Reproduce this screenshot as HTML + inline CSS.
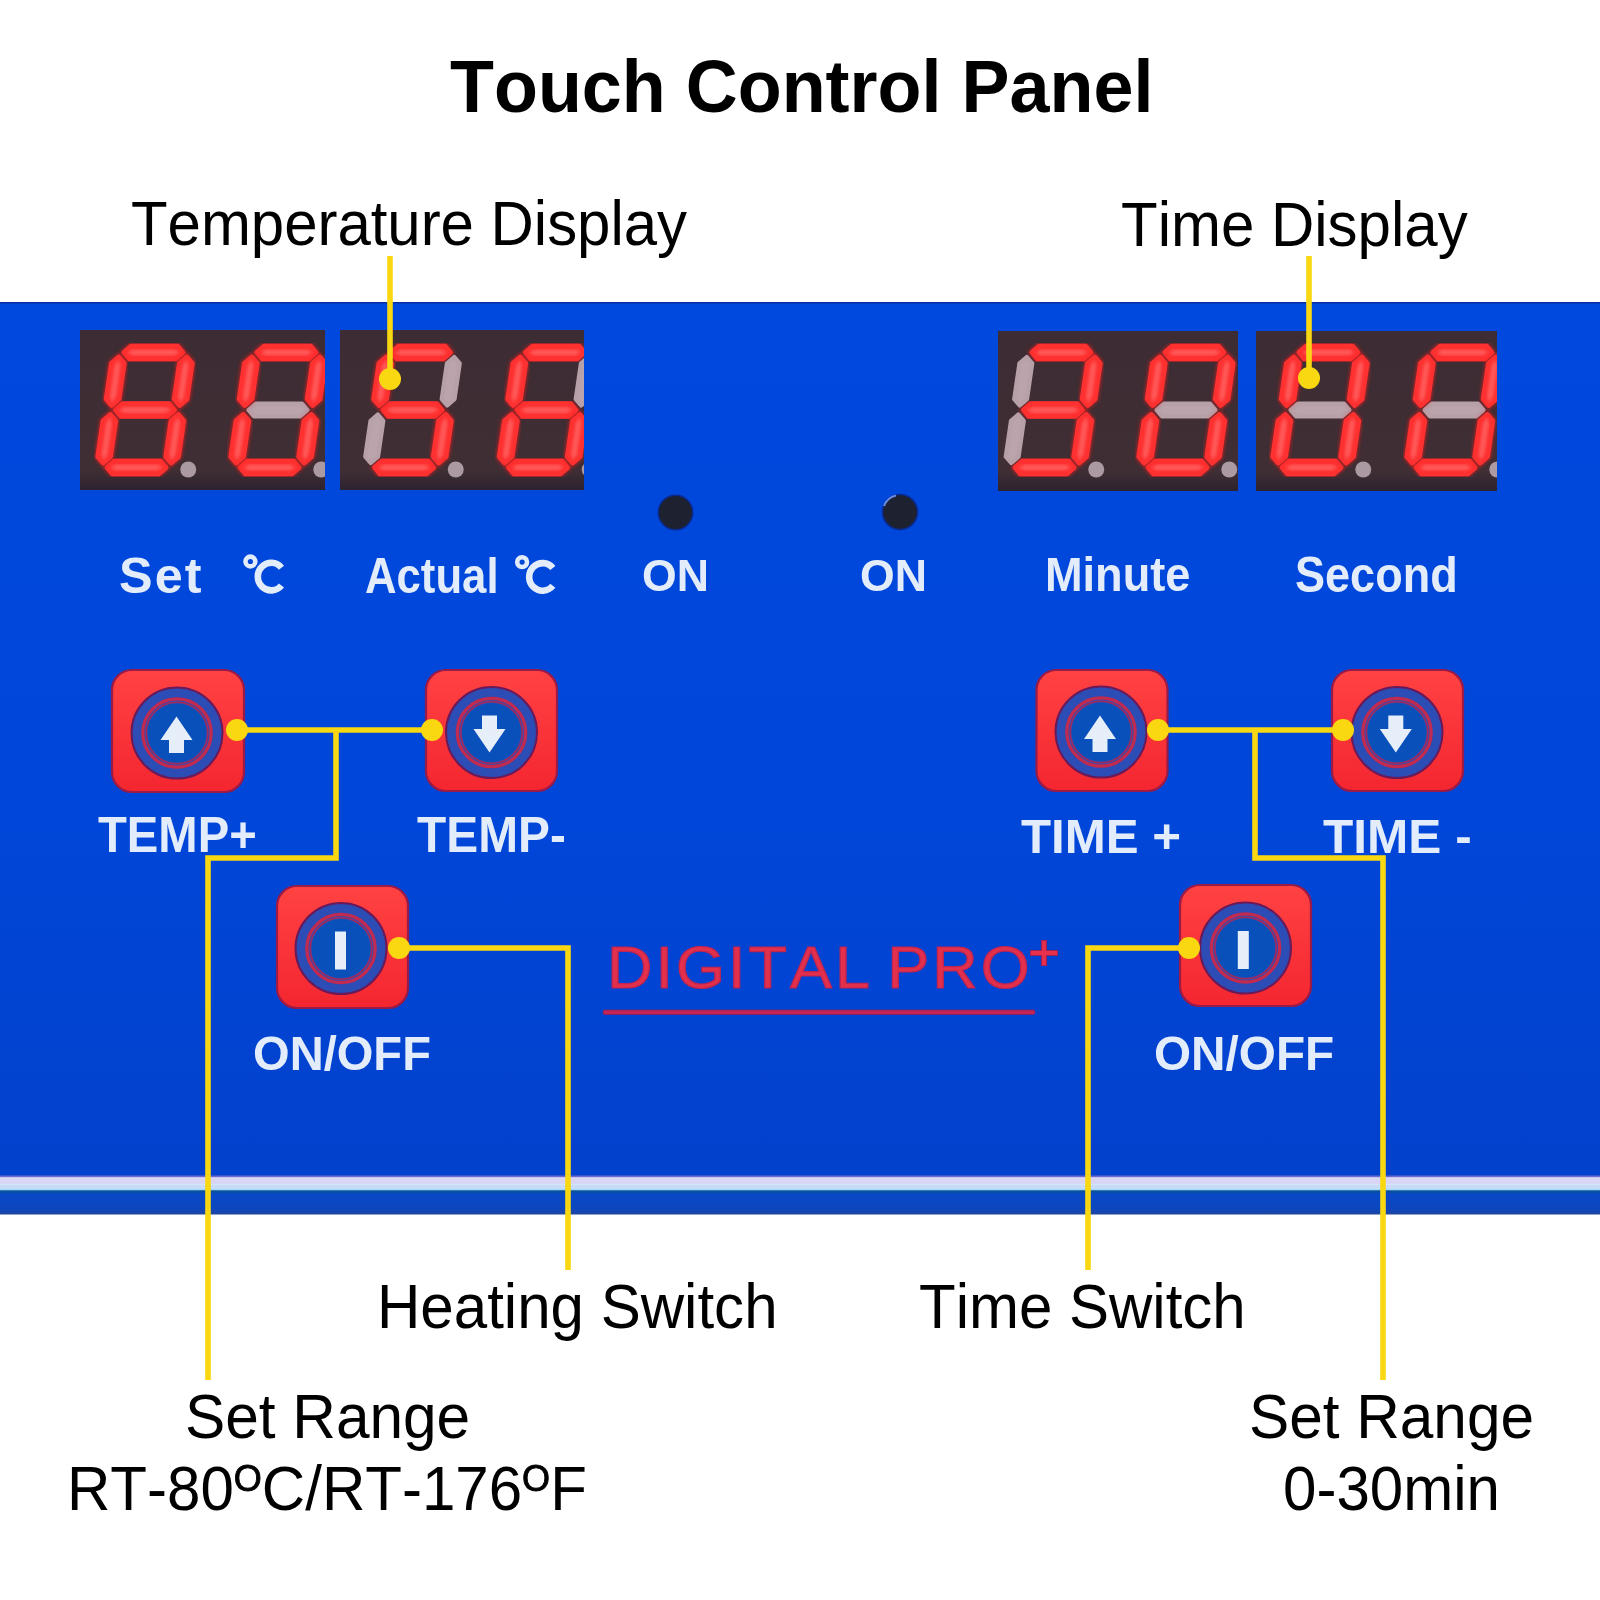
<!DOCTYPE html>
<html><head><meta charset="utf-8"><style>
html,body{margin:0;padding:0;width:1600px;height:1600px;background:#fff;overflow:hidden}
.g{position:absolute;left:0;top:0}
.t{position:absolute;white-space:nowrap;line-height:1;font-kerning:none;font-family:"Liberation Sans",sans-serif;transform-origin:0 0}
</style></head><body>
<svg class="g" width="1600" height="1600" viewBox="0 0 1600 1600">
<defs>
<linearGradient id="panelg" x1="0" y1="0" x2="0" y2="1">
 <stop offset="0" stop-color="#0049de"/><stop offset="0.6" stop-color="#0046d8"/><stop offset="1" stop-color="#0341cc"/>
</linearGradient>
<filter id="blur2" x="-20%" y="-20%" width="140%" height="140%"><feGaussianBlur stdDeviation="1.6"/></filter>
<linearGradient id="dispg" x1="0" y1="0" x2="0" y2="1">
 <stop offset="0" stop-color="#3d2c33"/><stop offset="0.88" stop-color="#3f2e34"/><stop offset="1" stop-color="#2c2230"/>
</linearGradient>
<linearGradient id="btng" x1="0" y1="0" x2="0" y2="1">
 <stop offset="0" stop-color="#ff4242"/><stop offset="1" stop-color="#f42630"/>
</linearGradient>
<linearGradient id="botg" x1="0" y1="0" x2="0" y2="1">
 <stop offset="0" stop-color="#064cb4"/><stop offset="0.2" stop-color="#0848c8"/><stop offset="0.8" stop-color="#0e46bc"/><stop offset="1" stop-color="#20469a"/>
</linearGradient>
</defs>
<style>
.on{fill:#ff3434;stroke:#ff3030;stroke-width:5;stroke-linejoin:round}
.hl{fill:#ff5a5a;stroke:#ff5a5a;stroke-width:1;filter:url(#blur2)}
.glow{fill:none;stroke:#ff1a1a;stroke-width:8;stroke-linejoin:round;opacity:0.45;filter:url(#blur2)}
.off{fill:#bca4ac;stroke:#b8a0a8;stroke-width:4.4;stroke-linejoin:round}
.dp{fill:#ac9aa2}
</style>
<rect x="0" y="302" width="1600" height="874" fill="url(#panelg)"/>
<rect x="0" y="302" width="1600" height="1.5" fill="#0a30a0"/>
<rect x="0" y="1175.5" width="1600" height="2" fill="#6a6ad0"/>
<rect x="0" y="1177.5" width="1600" height="7" fill="#d8d6f4"/>
<rect x="0" y="1184.5" width="1600" height="4.5" fill="#c6dcf6"/>
<rect x="0" y="1189" width="1600" height="1.5" fill="#a0dcf8"/>
<rect x="0" y="1190.5" width="1600" height="24" fill="url(#botg)"/>
<rect x="0" y="1190.5" width="1600" height="2" fill="#0a5098"/>
<clipPath id="dc0"><rect x="80" y="330" width="245" height="160"/></clipPath><rect x="80" y="330" width="245" height="160" fill="url(#dispg)"/><g clip-path="url(#dc0)"><polygon class="glow" points="124.05,352.50 131.28,346.20 177.48,346.20 182.85,352.50 175.63,358.80 129.43,358.80"/>
<polygon class="on" points="124.05,352.50 131.28,346.20 177.48,346.20 182.85,352.50 175.63,358.80 129.43,358.80"/>
<polygon class="hl" points="128.46,352.50 134.14,350.30 173.41,350.30 178.44,352.50 172.76,354.70 133.49,354.70"/>
<polygon class="glow" points="115.60,410.00 122.83,403.70 169.03,403.70 174.40,410.00 167.17,416.30 120.97,416.30"/>
<polygon class="on" points="115.60,410.00 122.83,403.70 169.03,403.70 174.40,410.00 167.17,416.30 120.97,416.30"/>
<polygon class="hl" points="120.01,410.00 125.69,407.80 164.96,407.80 169.99,410.00 164.31,412.20 125.04,412.20"/>
<polygon class="glow" points="107.15,467.50 114.37,461.20 160.57,461.20 165.95,467.50 158.72,473.80 112.52,473.80"/>
<polygon class="on" points="107.15,467.50 114.37,461.20 160.57,461.20 165.95,467.50 158.72,473.80 112.52,473.80"/>
<polygon class="hl" points="111.56,467.50 117.24,465.30 156.51,465.30 161.54,467.50 155.86,469.70 116.59,469.70"/>
<polygon class="glow" points="118.78,357.10 124.15,363.40 118.90,399.10 111.68,405.40 106.30,399.10 111.55,363.40"/>
<polygon class="on" points="118.78,357.10 124.15,363.40 118.90,399.10 111.68,405.40 106.30,399.10 111.55,363.40"/>
<polygon class="hl" points="118.24,360.72 119.66,366.08 115.20,396.42 112.21,401.78 110.79,396.42 115.25,366.08"/>
<polygon class="glow" points="186.78,357.10 192.15,363.40 186.90,399.10 179.68,405.40 174.30,399.10 179.55,363.40"/>
<polygon class="on" points="186.78,357.10 192.15,363.40 186.90,399.10 179.68,405.40 174.30,399.10 179.55,363.40"/>
<polygon class="hl" points="186.24,360.72 187.66,366.08 183.20,396.42 180.21,401.78 178.79,396.42 183.25,366.08"/>
<polygon class="glow" points="110.32,414.60 115.70,420.90 110.45,456.60 103.22,462.90 97.85,456.60 103.10,420.90"/>
<polygon class="on" points="110.32,414.60 115.70,420.90 110.45,456.60 103.22,462.90 97.85,456.60 103.10,420.90"/>
<polygon class="hl" points="109.79,418.22 111.21,423.58 106.75,453.92 103.76,459.28 102.34,453.92 106.80,423.58"/>
<polygon class="glow" points="178.32,414.60 183.70,420.90 178.45,456.60 171.22,462.90 165.85,456.60 171.10,420.90"/>
<polygon class="on" points="178.32,414.60 183.70,420.90 178.45,456.60 171.22,462.90 165.85,456.60 171.10,420.90"/>
<polygon class="hl" points="177.79,418.22 179.21,423.58 174.75,453.92 171.76,459.28 170.34,453.92 174.80,423.58"/>
<circle class="dp" cx="188.25" cy="469.50" r="8"/><polygon class="glow" points="257.05,352.50 264.28,346.20 310.48,346.20 315.85,352.50 308.63,358.80 262.43,358.80"/>
<polygon class="on" points="257.05,352.50 264.28,346.20 310.48,346.20 315.85,352.50 308.63,358.80 262.43,358.80"/>
<polygon class="hl" points="261.46,352.50 267.14,350.30 306.41,350.30 311.44,352.50 305.76,354.70 266.49,354.70"/>
<polygon class="off" points="248.60,410.00 255.83,403.70 302.03,403.70 307.40,410.00 300.17,416.30 253.97,416.30"/>
<polygon class="glow" points="240.15,467.50 247.37,461.20 293.57,461.20 298.95,467.50 291.72,473.80 245.52,473.80"/>
<polygon class="on" points="240.15,467.50 247.37,461.20 293.57,461.20 298.95,467.50 291.72,473.80 245.52,473.80"/>
<polygon class="hl" points="244.56,467.50 250.24,465.30 289.51,465.30 294.54,467.50 288.86,469.70 249.59,469.70"/>
<polygon class="glow" points="251.78,357.10 257.15,363.40 251.90,399.10 244.68,405.40 239.30,399.10 244.55,363.40"/>
<polygon class="on" points="251.78,357.10 257.15,363.40 251.90,399.10 244.68,405.40 239.30,399.10 244.55,363.40"/>
<polygon class="hl" points="251.24,360.72 252.66,366.08 248.20,396.42 245.21,401.78 243.79,396.42 248.25,366.08"/>
<polygon class="glow" points="319.78,357.10 325.15,363.40 319.90,399.10 312.68,405.40 307.30,399.10 312.55,363.40"/>
<polygon class="on" points="319.78,357.10 325.15,363.40 319.90,399.10 312.68,405.40 307.30,399.10 312.55,363.40"/>
<polygon class="hl" points="319.24,360.72 320.66,366.08 316.20,396.42 313.21,401.78 311.79,396.42 316.25,366.08"/>
<polygon class="glow" points="243.32,414.60 248.70,420.90 243.45,456.60 236.22,462.90 230.85,456.60 236.10,420.90"/>
<polygon class="on" points="243.32,414.60 248.70,420.90 243.45,456.60 236.22,462.90 230.85,456.60 236.10,420.90"/>
<polygon class="hl" points="242.79,418.22 244.21,423.58 239.75,453.92 236.76,459.28 235.34,453.92 239.80,423.58"/>
<polygon class="glow" points="311.32,414.60 316.70,420.90 311.45,456.60 304.22,462.90 298.85,456.60 304.10,420.90"/>
<polygon class="on" points="311.32,414.60 316.70,420.90 311.45,456.60 304.22,462.90 298.85,456.60 304.10,420.90"/>
<polygon class="hl" points="310.79,418.22 312.21,423.58 307.75,453.92 304.76,459.28 303.34,453.92 307.80,423.58"/>
<circle class="dp" cx="321.25" cy="469.50" r="8"/></g><clipPath id="dc1"><rect x="340" y="330" width="244" height="160"/></clipPath><rect x="340" y="330" width="244" height="160" fill="url(#dispg)"/><g clip-path="url(#dc1)"><polygon class="glow" points="391.55,352.50 398.78,346.20 444.98,346.20 450.35,352.50 443.13,358.80 396.93,358.80"/>
<polygon class="on" points="391.55,352.50 398.78,346.20 444.98,346.20 450.35,352.50 443.13,358.80 396.93,358.80"/>
<polygon class="hl" points="395.96,352.50 401.64,350.30 440.91,350.30 445.94,352.50 440.26,354.70 400.99,354.70"/>
<polygon class="glow" points="383.10,410.00 390.33,403.70 436.53,403.70 441.90,410.00 434.67,416.30 388.47,416.30"/>
<polygon class="on" points="383.10,410.00 390.33,403.70 436.53,403.70 441.90,410.00 434.67,416.30 388.47,416.30"/>
<polygon class="hl" points="387.51,410.00 393.19,407.80 432.46,407.80 437.49,410.00 431.81,412.20 392.54,412.20"/>
<polygon class="glow" points="374.65,467.50 381.87,461.20 428.07,461.20 433.45,467.50 426.22,473.80 380.02,473.80"/>
<polygon class="on" points="374.65,467.50 381.87,461.20 428.07,461.20 433.45,467.50 426.22,473.80 380.02,473.80"/>
<polygon class="hl" points="379.06,467.50 384.74,465.30 424.01,465.30 429.04,467.50 423.36,469.70 384.09,469.70"/>
<polygon class="glow" points="386.28,357.10 391.65,363.40 386.40,399.10 379.18,405.40 373.80,399.10 379.05,363.40"/>
<polygon class="on" points="386.28,357.10 391.65,363.40 386.40,399.10 379.18,405.40 373.80,399.10 379.05,363.40"/>
<polygon class="hl" points="385.74,360.72 387.16,366.08 382.70,396.42 379.71,401.78 378.29,396.42 382.75,366.08"/>
<polygon class="off" points="454.28,357.10 459.65,363.40 454.40,399.10 447.18,405.40 441.80,399.10 447.05,363.40"/>
<polygon class="off" points="377.82,414.60 383.20,420.90 377.95,456.60 370.72,462.90 365.35,456.60 370.60,420.90"/>
<polygon class="glow" points="445.82,414.60 451.20,420.90 445.95,456.60 438.72,462.90 433.35,456.60 438.60,420.90"/>
<polygon class="on" points="445.82,414.60 451.20,420.90 445.95,456.60 438.72,462.90 433.35,456.60 438.60,420.90"/>
<polygon class="hl" points="445.29,418.22 446.71,423.58 442.25,453.92 439.26,459.28 437.84,453.92 442.30,423.58"/>
<circle class="dp" cx="455.75" cy="469.50" r="8"/><polygon class="glow" points="525.55,352.50 532.78,346.20 578.98,346.20 584.35,352.50 577.13,358.80 530.93,358.80"/>
<polygon class="on" points="525.55,352.50 532.78,346.20 578.98,346.20 584.35,352.50 577.13,358.80 530.93,358.80"/>
<polygon class="hl" points="529.96,352.50 535.64,350.30 574.91,350.30 579.94,352.50 574.26,354.70 534.99,354.70"/>
<polygon class="glow" points="517.10,410.00 524.33,403.70 570.53,403.70 575.90,410.00 568.67,416.30 522.47,416.30"/>
<polygon class="on" points="517.10,410.00 524.33,403.70 570.53,403.70 575.90,410.00 568.67,416.30 522.47,416.30"/>
<polygon class="hl" points="521.51,410.00 527.19,407.80 566.46,407.80 571.49,410.00 565.81,412.20 526.54,412.20"/>
<polygon class="glow" points="508.65,467.50 515.87,461.20 562.07,461.20 567.45,467.50 560.22,473.80 514.02,473.80"/>
<polygon class="on" points="508.65,467.50 515.87,461.20 562.07,461.20 567.45,467.50 560.22,473.80 514.02,473.80"/>
<polygon class="hl" points="513.06,467.50 518.74,465.30 558.01,465.30 563.04,467.50 557.36,469.70 518.09,469.70"/>
<polygon class="glow" points="520.28,357.10 525.65,363.40 520.40,399.10 513.18,405.40 507.80,399.10 513.05,363.40"/>
<polygon class="on" points="520.28,357.10 525.65,363.40 520.40,399.10 513.18,405.40 507.80,399.10 513.05,363.40"/>
<polygon class="hl" points="519.74,360.72 521.16,366.08 516.70,396.42 513.71,401.78 512.29,396.42 516.75,366.08"/>
<polygon class="off" points="588.28,357.10 593.65,363.40 588.40,399.10 581.18,405.40 575.80,399.10 581.05,363.40"/>
<polygon class="glow" points="511.82,414.60 517.20,420.90 511.95,456.60 504.72,462.90 499.35,456.60 504.60,420.90"/>
<polygon class="on" points="511.82,414.60 517.20,420.90 511.95,456.60 504.72,462.90 499.35,456.60 504.60,420.90"/>
<polygon class="hl" points="511.29,418.22 512.71,423.58 508.25,453.92 505.26,459.28 503.84,453.92 508.30,423.58"/>
<polygon class="glow" points="579.82,414.60 585.20,420.90 579.95,456.60 572.72,462.90 567.35,456.60 572.60,420.90"/>
<polygon class="on" points="579.82,414.60 585.20,420.90 579.95,456.60 572.72,462.90 567.35,456.60 572.60,420.90"/>
<polygon class="hl" points="579.29,418.22 580.71,423.58 576.25,453.92 573.26,459.28 571.84,453.92 576.30,423.58"/>
<circle class="dp" cx="589.75" cy="469.50" r="8"/></g><clipPath id="dc2"><rect x="998" y="331" width="240" height="160"/></clipPath><rect x="998" y="331" width="240" height="160" fill="url(#dispg)"/><g clip-path="url(#dc2)"><polygon class="glow" points="1032.05,352.50 1039.28,346.20 1085.48,346.20 1090.85,352.50 1083.63,358.80 1037.43,358.80"/>
<polygon class="on" points="1032.05,352.50 1039.28,346.20 1085.48,346.20 1090.85,352.50 1083.63,358.80 1037.43,358.80"/>
<polygon class="hl" points="1036.46,352.50 1042.14,350.30 1081.41,350.30 1086.44,352.50 1080.76,354.70 1041.49,354.70"/>
<polygon class="glow" points="1023.60,410.00 1030.83,403.70 1077.03,403.70 1082.40,410.00 1075.17,416.30 1028.97,416.30"/>
<polygon class="on" points="1023.60,410.00 1030.83,403.70 1077.03,403.70 1082.40,410.00 1075.17,416.30 1028.97,416.30"/>
<polygon class="hl" points="1028.01,410.00 1033.69,407.80 1072.96,407.80 1077.99,410.00 1072.31,412.20 1033.04,412.20"/>
<polygon class="glow" points="1015.15,467.50 1022.37,461.20 1068.57,461.20 1073.95,467.50 1066.72,473.80 1020.52,473.80"/>
<polygon class="on" points="1015.15,467.50 1022.37,461.20 1068.57,461.20 1073.95,467.50 1066.72,473.80 1020.52,473.80"/>
<polygon class="hl" points="1019.56,467.50 1025.24,465.30 1064.51,465.30 1069.54,467.50 1063.86,469.70 1024.59,469.70"/>
<polygon class="off" points="1026.78,357.10 1032.15,363.40 1026.90,399.10 1019.68,405.40 1014.30,399.10 1019.55,363.40"/>
<polygon class="glow" points="1094.78,357.10 1100.15,363.40 1094.90,399.10 1087.68,405.40 1082.30,399.10 1087.55,363.40"/>
<polygon class="on" points="1094.78,357.10 1100.15,363.40 1094.90,399.10 1087.68,405.40 1082.30,399.10 1087.55,363.40"/>
<polygon class="hl" points="1094.24,360.72 1095.66,366.08 1091.20,396.42 1088.21,401.78 1086.79,396.42 1091.25,366.08"/>
<polygon class="off" points="1018.32,414.60 1023.70,420.90 1018.45,456.60 1011.22,462.90 1005.85,456.60 1011.10,420.90"/>
<polygon class="glow" points="1086.32,414.60 1091.70,420.90 1086.45,456.60 1079.22,462.90 1073.85,456.60 1079.10,420.90"/>
<polygon class="on" points="1086.32,414.60 1091.70,420.90 1086.45,456.60 1079.22,462.90 1073.85,456.60 1079.10,420.90"/>
<polygon class="hl" points="1085.79,418.22 1087.21,423.58 1082.75,453.92 1079.76,459.28 1078.34,453.92 1082.80,423.58"/>
<circle class="dp" cx="1096.25" cy="469.50" r="8"/><polygon class="glow" points="1165.05,352.50 1172.28,346.20 1218.48,346.20 1223.85,352.50 1216.63,358.80 1170.43,358.80"/>
<polygon class="on" points="1165.05,352.50 1172.28,346.20 1218.48,346.20 1223.85,352.50 1216.63,358.80 1170.43,358.80"/>
<polygon class="hl" points="1169.46,352.50 1175.14,350.30 1214.41,350.30 1219.44,352.50 1213.76,354.70 1174.49,354.70"/>
<polygon class="off" points="1156.60,410.00 1163.83,403.70 1210.03,403.70 1215.40,410.00 1208.17,416.30 1161.97,416.30"/>
<polygon class="glow" points="1148.15,467.50 1155.37,461.20 1201.57,461.20 1206.95,467.50 1199.72,473.80 1153.52,473.80"/>
<polygon class="on" points="1148.15,467.50 1155.37,461.20 1201.57,461.20 1206.95,467.50 1199.72,473.80 1153.52,473.80"/>
<polygon class="hl" points="1152.56,467.50 1158.24,465.30 1197.51,465.30 1202.54,467.50 1196.86,469.70 1157.59,469.70"/>
<polygon class="glow" points="1159.78,357.10 1165.15,363.40 1159.90,399.10 1152.68,405.40 1147.30,399.10 1152.55,363.40"/>
<polygon class="on" points="1159.78,357.10 1165.15,363.40 1159.90,399.10 1152.68,405.40 1147.30,399.10 1152.55,363.40"/>
<polygon class="hl" points="1159.24,360.72 1160.66,366.08 1156.20,396.42 1153.21,401.78 1151.79,396.42 1156.25,366.08"/>
<polygon class="glow" points="1227.78,357.10 1233.15,363.40 1227.90,399.10 1220.68,405.40 1215.30,399.10 1220.55,363.40"/>
<polygon class="on" points="1227.78,357.10 1233.15,363.40 1227.90,399.10 1220.68,405.40 1215.30,399.10 1220.55,363.40"/>
<polygon class="hl" points="1227.24,360.72 1228.66,366.08 1224.20,396.42 1221.21,401.78 1219.79,396.42 1224.25,366.08"/>
<polygon class="glow" points="1151.32,414.60 1156.70,420.90 1151.45,456.60 1144.22,462.90 1138.85,456.60 1144.10,420.90"/>
<polygon class="on" points="1151.32,414.60 1156.70,420.90 1151.45,456.60 1144.22,462.90 1138.85,456.60 1144.10,420.90"/>
<polygon class="hl" points="1150.79,418.22 1152.21,423.58 1147.75,453.92 1144.76,459.28 1143.34,453.92 1147.80,423.58"/>
<polygon class="glow" points="1219.32,414.60 1224.70,420.90 1219.45,456.60 1212.22,462.90 1206.85,456.60 1212.10,420.90"/>
<polygon class="on" points="1219.32,414.60 1224.70,420.90 1219.45,456.60 1212.22,462.90 1206.85,456.60 1212.10,420.90"/>
<polygon class="hl" points="1218.79,418.22 1220.21,423.58 1215.75,453.92 1212.76,459.28 1211.34,453.92 1215.80,423.58"/>
<circle class="dp" cx="1229.25" cy="469.50" r="8"/></g><clipPath id="dc3"><rect x="1256" y="331" width="241" height="160"/></clipPath><rect x="1256" y="331" width="241" height="160" fill="url(#dispg)"/><g clip-path="url(#dc3)"><polygon class="glow" points="1299.05,352.50 1306.28,346.20 1352.48,346.20 1357.85,352.50 1350.63,358.80 1304.43,358.80"/>
<polygon class="on" points="1299.05,352.50 1306.28,346.20 1352.48,346.20 1357.85,352.50 1350.63,358.80 1304.43,358.80"/>
<polygon class="hl" points="1303.46,352.50 1309.14,350.30 1348.41,350.30 1353.44,352.50 1347.76,354.70 1308.49,354.70"/>
<polygon class="off" points="1290.60,410.00 1297.83,403.70 1344.03,403.70 1349.40,410.00 1342.17,416.30 1295.97,416.30"/>
<polygon class="glow" points="1282.15,467.50 1289.37,461.20 1335.57,461.20 1340.95,467.50 1333.72,473.80 1287.52,473.80"/>
<polygon class="on" points="1282.15,467.50 1289.37,461.20 1335.57,461.20 1340.95,467.50 1333.72,473.80 1287.52,473.80"/>
<polygon class="hl" points="1286.56,467.50 1292.24,465.30 1331.51,465.30 1336.54,467.50 1330.86,469.70 1291.59,469.70"/>
<polygon class="glow" points="1293.78,357.10 1299.15,363.40 1293.90,399.10 1286.68,405.40 1281.30,399.10 1286.55,363.40"/>
<polygon class="on" points="1293.78,357.10 1299.15,363.40 1293.90,399.10 1286.68,405.40 1281.30,399.10 1286.55,363.40"/>
<polygon class="hl" points="1293.24,360.72 1294.66,366.08 1290.20,396.42 1287.21,401.78 1285.79,396.42 1290.25,366.08"/>
<polygon class="glow" points="1361.78,357.10 1367.15,363.40 1361.90,399.10 1354.68,405.40 1349.30,399.10 1354.55,363.40"/>
<polygon class="on" points="1361.78,357.10 1367.15,363.40 1361.90,399.10 1354.68,405.40 1349.30,399.10 1354.55,363.40"/>
<polygon class="hl" points="1361.24,360.72 1362.66,366.08 1358.20,396.42 1355.21,401.78 1353.79,396.42 1358.25,366.08"/>
<polygon class="glow" points="1285.32,414.60 1290.70,420.90 1285.45,456.60 1278.22,462.90 1272.85,456.60 1278.10,420.90"/>
<polygon class="on" points="1285.32,414.60 1290.70,420.90 1285.45,456.60 1278.22,462.90 1272.85,456.60 1278.10,420.90"/>
<polygon class="hl" points="1284.79,418.22 1286.21,423.58 1281.75,453.92 1278.76,459.28 1277.34,453.92 1281.80,423.58"/>
<polygon class="glow" points="1353.32,414.60 1358.70,420.90 1353.45,456.60 1346.22,462.90 1340.85,456.60 1346.10,420.90"/>
<polygon class="on" points="1353.32,414.60 1358.70,420.90 1353.45,456.60 1346.22,462.90 1340.85,456.60 1346.10,420.90"/>
<polygon class="hl" points="1352.79,418.22 1354.21,423.58 1349.75,453.92 1346.76,459.28 1345.34,453.92 1349.80,423.58"/>
<circle class="dp" cx="1363.25" cy="469.50" r="8"/><polygon class="glow" points="1433.05,352.50 1440.28,346.20 1486.48,346.20 1491.85,352.50 1484.63,358.80 1438.43,358.80"/>
<polygon class="on" points="1433.05,352.50 1440.28,346.20 1486.48,346.20 1491.85,352.50 1484.63,358.80 1438.43,358.80"/>
<polygon class="hl" points="1437.46,352.50 1443.14,350.30 1482.41,350.30 1487.44,352.50 1481.76,354.70 1442.49,354.70"/>
<polygon class="off" points="1424.60,410.00 1431.83,403.70 1478.03,403.70 1483.40,410.00 1476.17,416.30 1429.97,416.30"/>
<polygon class="glow" points="1416.15,467.50 1423.37,461.20 1469.57,461.20 1474.95,467.50 1467.72,473.80 1421.52,473.80"/>
<polygon class="on" points="1416.15,467.50 1423.37,461.20 1469.57,461.20 1474.95,467.50 1467.72,473.80 1421.52,473.80"/>
<polygon class="hl" points="1420.56,467.50 1426.24,465.30 1465.51,465.30 1470.54,467.50 1464.86,469.70 1425.59,469.70"/>
<polygon class="glow" points="1427.78,357.10 1433.15,363.40 1427.90,399.10 1420.68,405.40 1415.30,399.10 1420.55,363.40"/>
<polygon class="on" points="1427.78,357.10 1433.15,363.40 1427.90,399.10 1420.68,405.40 1415.30,399.10 1420.55,363.40"/>
<polygon class="hl" points="1427.24,360.72 1428.66,366.08 1424.20,396.42 1421.21,401.78 1419.79,396.42 1424.25,366.08"/>
<polygon class="glow" points="1495.78,357.10 1501.15,363.40 1495.90,399.10 1488.68,405.40 1483.30,399.10 1488.55,363.40"/>
<polygon class="on" points="1495.78,357.10 1501.15,363.40 1495.90,399.10 1488.68,405.40 1483.30,399.10 1488.55,363.40"/>
<polygon class="hl" points="1495.24,360.72 1496.66,366.08 1492.20,396.42 1489.21,401.78 1487.79,396.42 1492.25,366.08"/>
<polygon class="glow" points="1419.32,414.60 1424.70,420.90 1419.45,456.60 1412.22,462.90 1406.85,456.60 1412.10,420.90"/>
<polygon class="on" points="1419.32,414.60 1424.70,420.90 1419.45,456.60 1412.22,462.90 1406.85,456.60 1412.10,420.90"/>
<polygon class="hl" points="1418.79,418.22 1420.21,423.58 1415.75,453.92 1412.76,459.28 1411.34,453.92 1415.80,423.58"/>
<polygon class="glow" points="1487.32,414.60 1492.70,420.90 1487.45,456.60 1480.22,462.90 1474.85,456.60 1480.10,420.90"/>
<polygon class="on" points="1487.32,414.60 1492.70,420.90 1487.45,456.60 1480.22,462.90 1474.85,456.60 1480.10,420.90"/>
<polygon class="hl" points="1486.79,418.22 1488.21,423.58 1483.75,453.92 1480.76,459.28 1479.34,453.92 1483.80,423.58"/>
<circle class="dp" cx="1497.25" cy="469.50" r="8"/></g>
<circle cx="675.5" cy="512.5" r="17.2" fill="#1e2130" stroke="#0a2a90" stroke-width="1.5"/>
<circle cx="900" cy="512" r="17.5" fill="#1e2130" stroke="#0a2a90" stroke-width="1.5"/><path d="M884,506 A17,17 0 0 1 896,495.5" fill="none" stroke="#6a8ae0" stroke-width="2"/>
<g id="btns">
<rect x="112" y="670" width="132" height="122" rx="20" fill="url(#btng)" stroke="#9a1a48" stroke-width="2.2"/>
<circle cx="177" cy="733" r="45.5" fill="#2c4cb6" stroke="#6a1a58" stroke-width="2"/>
<circle cx="177" cy="733" r="32.8" fill="#0a50ba" stroke="#3a4aa8" stroke-width="6.5"/>
<circle cx="177" cy="733" r="34.2" fill="none" stroke="#c22a50" stroke-width="3.2"/>
<circle cx="177" cy="733" r="30.8" fill="none" stroke="#a02a60" stroke-width="1.6"/>
<polygon fill="#e6eefa" points="176.5,716.5 192.5,740 184.0,740 184.0,753 169.0,753 169.0,740 160.5,740"/><rect x="426" y="670" width="131" height="121" rx="20" fill="url(#btng)" stroke="#9a1a48" stroke-width="2.2"/>
<circle cx="491.5" cy="732.5" r="45.5" fill="#2c4cb6" stroke="#6a1a58" stroke-width="2"/>
<circle cx="491.5" cy="732.5" r="32.8" fill="#0a50ba" stroke="#3a4aa8" stroke-width="6.5"/>
<circle cx="491.5" cy="732.5" r="34.2" fill="none" stroke="#c22a50" stroke-width="3.2"/>
<circle cx="491.5" cy="732.5" r="30.8" fill="none" stroke="#a02a60" stroke-width="1.6"/>
<polygon fill="#e6eefa" points="489.5,752.5 505.5,729.0 497.0,729.0 497.0,715.5 482.0,715.5 482.0,729.0 473.5,729.0"/><rect x="1036.5" y="670" width="131" height="121" rx="20" fill="url(#btng)" stroke="#9a1a48" stroke-width="2.2"/>
<circle cx="1101" cy="732" r="45.5" fill="#2c4cb6" stroke="#6a1a58" stroke-width="2"/>
<circle cx="1101" cy="732" r="32.8" fill="#0a50ba" stroke="#3a4aa8" stroke-width="6.5"/>
<circle cx="1101" cy="732" r="34.2" fill="none" stroke="#c22a50" stroke-width="3.2"/>
<circle cx="1101" cy="732" r="30.8" fill="none" stroke="#a02a60" stroke-width="1.6"/>
<polygon fill="#e6eefa" points="1100,715.5 1116,739 1107.5,739 1107.5,752 1092.5,752 1092.5,739 1084,739"/><rect x="1332" y="670" width="131" height="121" rx="20" fill="url(#btng)" stroke="#9a1a48" stroke-width="2.2"/>
<circle cx="1397" cy="732.5" r="45.5" fill="#2c4cb6" stroke="#6a1a58" stroke-width="2"/>
<circle cx="1397" cy="732.5" r="32.8" fill="#0a50ba" stroke="#3a4aa8" stroke-width="6.5"/>
<circle cx="1397" cy="732.5" r="34.2" fill="none" stroke="#c22a50" stroke-width="3.2"/>
<circle cx="1397" cy="732.5" r="30.8" fill="none" stroke="#a02a60" stroke-width="1.6"/>
<polygon fill="#e6eefa" points="1395.8,752.5 1411.8,729.0 1403.3,729.0 1403.3,715.5 1388.3,715.5 1388.3,729.0 1379.8,729.0"/><rect x="277" y="886" width="131" height="122" rx="20" fill="url(#btng)" stroke="#9a1a48" stroke-width="2.2"/>
<circle cx="341" cy="948.5" r="45.5" fill="#2c4cb6" stroke="#6a1a58" stroke-width="2"/>
<circle cx="341" cy="948.5" r="32.8" fill="#0a50ba" stroke="#3a4aa8" stroke-width="6.5"/>
<circle cx="341" cy="948.5" r="34.2" fill="none" stroke="#c22a50" stroke-width="3.2"/>
<circle cx="341" cy="948.5" r="30.8" fill="none" stroke="#a02a60" stroke-width="1.6"/>
<rect x="335.0" y="931.5" width="11" height="38" fill="#e6eefa"/><rect x="1180" y="885" width="131" height="121" rx="20" fill="url(#btng)" stroke="#9a1a48" stroke-width="2.2"/>
<circle cx="1245.5" cy="948" r="45.5" fill="#2c4cb6" stroke="#6a1a58" stroke-width="2"/>
<circle cx="1245.5" cy="948" r="32.8" fill="#0a50ba" stroke="#3a4aa8" stroke-width="6.5"/>
<circle cx="1245.5" cy="948" r="34.2" fill="none" stroke="#c22a50" stroke-width="3.2"/>
<circle cx="1245.5" cy="948" r="30.8" fill="none" stroke="#a02a60" stroke-width="1.6"/>
<rect x="1237.8" y="931" width="11" height="38" fill="#e6eefa"/>
</g>
<rect x="603" y="1010" width="432" height="4.5" rx="2" fill="#c42456" stroke="#8a2060" stroke-width="0.8"/>
</svg>
<div class="t" style="left:449.55px;top:50.19px;font-size:75.6px;font-weight:700;color:#000;letter-spacing:0px;transform:scale(0.9516,0.9811);">Touch Control Panel</div><div class="t" style="left:131.04px;top:192.00px;font-size:62.5px;font-weight:400;color:#000;letter-spacing:0px;transform:scale(0.9585,1.0000);">Temperature Display</div><div class="t" style="left:1121.04px;top:193.00px;font-size:62.5px;font-weight:400;color:#000;letter-spacing:0px;transform:scale(0.9597,1.0000);">Time Display</div><div class="t" style="left:377.20px;top:1275.00px;font-size:62.5px;font-weight:400;color:#000;letter-spacing:0px;transform:scale(0.9608,1.0000);">Heating Switch</div><div class="t" style="left:919.04px;top:1275.00px;font-size:62.5px;font-weight:400;color:#000;letter-spacing:0px;transform:scale(0.9600,1.0000);">Time Switch</div><div class="t" style="left:184.62px;top:1384.93px;font-size:62.9px;font-weight:400;color:#000;letter-spacing:0px;transform:scale(0.9595,1.0070);">Set Range</div><div class="t" style="left:67.20px;top:1457.00px;font-size:62.5px;font-weight:400;color:#000;letter-spacing:0px;transform:scale(0.9607,1.0000);">RT-80<span style="font-size:0.6em;vertical-align:0.52em;-webkit-text-stroke:0.9px #000">O</span>C/RT-176<span style="font-size:0.6em;vertical-align:0.52em;-webkit-text-stroke:0.9px #000">O</span>F</div><div class="t" style="left:1248.82px;top:1384.93px;font-size:62.9px;font-weight:400;color:#000;letter-spacing:0px;transform:scale(0.9588,1.0070);">Set Range</div><div class="t" style="left:1282.78px;top:1457.00px;font-size:62.5px;font-weight:400;color:#000;letter-spacing:0px;transform:scale(0.9605,1.0000);">0-30min</div><div class="t" style="left:118.93px;top:550.88px;font-size:48.7px;font-weight:700;color:#e2ecfb;letter-spacing:2px;transform:scale(1.0338,1.0152);">Set</div><div class="t" style="left:365.11px;top:551.13px;font-size:49.0px;font-weight:700;color:#e2ecfb;letter-spacing:0px;transform:scale(0.8917,1.0212);">Actual</div><div class="t" style="left:642.05px;top:553.59px;font-size:45.8px;font-weight:700;color:#e2ecfb;letter-spacing:0px;transform:scale(0.9750,0.9844);">ON</div><div class="t" style="left:860.05px;top:553.59px;font-size:45.8px;font-weight:700;color:#e2ecfb;letter-spacing:0px;transform:scale(0.9750,0.9844);">ON</div><div class="t" style="left:1045.18px;top:551.00px;font-size:48.0px;font-weight:700;color:#e2ecfb;letter-spacing:0px;transform:scale(0.9400,1.0000);">Minute</div><div class="t" style="left:1294.95px;top:549.88px;font-size:48.7px;font-weight:700;color:#e2ecfb;letter-spacing:0px;transform:scale(0.9251,1.0152);">Second</div><div class="t" style="left:98.43px;top:810.38px;font-size:48.7px;font-weight:700;color:#e2ecfb;letter-spacing:0px;transform:scale(0.9702,1.0152);">TEMP+</div><div class="t" style="left:417.02px;top:810.38px;font-size:48.7px;font-weight:700;color:#e2ecfb;letter-spacing:0px;transform:scale(0.9826,1.0152);">TEMP-</div><div class="t" style="left:1021.00px;top:811.70px;font-size:49.4px;font-weight:700;color:#e2ecfb;letter-spacing:0px;transform:scale(0.9968,0.9714);">TIME +</div><div class="t" style="left:1322.50px;top:811.70px;font-size:49.4px;font-weight:700;color:#e2ecfb;letter-spacing:0px;transform:scale(1.0034,0.9714);">TIME -</div><div class="t" style="left:253.09px;top:1029.20px;font-size:49.4px;font-weight:700;color:#e2ecfb;letter-spacing:0px;transform:scale(0.9536,0.9714);">ON/OFF</div><div class="t" style="left:1154.07px;top:1028.70px;font-size:49.4px;font-weight:700;color:#e2ecfb;letter-spacing:0px;transform:scale(0.9656,0.9714);">ON/OFF</div><div class="t" style="left:607.46px;top:937.87px;font-size:62.4px;font-weight:400;color:#e2304c;letter-spacing:3px;transform:scale(1.0085,0.9533);word-spacing:-6px;-webkit-text-stroke:1.3px #c02450">DIGITAL PRO</div>
<svg class="g" width="1600" height="1600"><circle cx="250.4" cy="561.5" r="4.9" fill="none" stroke="#e2ecfb" stroke-width="4.6"/><path d="M281.46,567.73 A13.4,13.8 0 1 0 281.46,585.47" fill="none" stroke="#e2ecfb" stroke-width="6.6"/><circle cx="522.1" cy="562.1" r="4.9" fill="none" stroke="#e2ecfb" stroke-width="4.6"/><path d="M552.86,568.03 A13.4,13.8 0 1 0 552.86,585.77" fill="none" stroke="#e2ecfb" stroke-width="6.6"/><path d="M1030,953 H1058 M1044,940 V966" stroke="#9a2058" stroke-width="6.2"/><path d="M1030.8,953 H1057.2 M1044,940.8 V965.2" stroke="#e8304c" stroke-width="3.8"/></svg>
<svg class="g" width="1600" height="1600" viewBox="0 0 1600 1600">
<polyline fill="none" stroke="#f9d812" stroke-width="5.6" stroke-linejoin="miter" stroke-linecap="butt" points="390,256 390,379"/><polyline fill="none" stroke="#f9d812" stroke-width="5.6" stroke-linejoin="miter" stroke-linecap="butt" points="1309,256 1309,378"/><polyline fill="none" stroke="#f9d812" stroke-width="5.6" stroke-linejoin="miter" stroke-linecap="butt" points="237,730 432,730"/><polyline fill="none" stroke="#f9d812" stroke-width="5.6" stroke-linejoin="miter" stroke-linecap="butt" points="336,730 336,858 208,858 208,1380"/><polyline fill="none" stroke="#f9d812" stroke-width="5.6" stroke-linejoin="miter" stroke-linecap="butt" points="1158,730 1343,730"/><polyline fill="none" stroke="#f9d812" stroke-width="5.6" stroke-linejoin="miter" stroke-linecap="butt" points="1255,730 1255,858 1383,858 1383,1380"/><polyline fill="none" stroke="#f9d812" stroke-width="5.6" stroke-linejoin="miter" stroke-linecap="butt" points="399,948 568,948 568,1270"/><polyline fill="none" stroke="#f9d812" stroke-width="5.6" stroke-linejoin="miter" stroke-linecap="butt" points="1189,948 1088,948 1088,1270"/>
<circle cx="390" cy="379" r="11" fill="#f9d812"/>
<circle cx="1309" cy="378" r="11" fill="#f9d812"/>
<circle cx="237" cy="730" r="11" fill="#f9d812"/>
<circle cx="432" cy="730" r="11" fill="#f9d812"/>
<circle cx="1158" cy="730" r="11" fill="#f9d812"/>
<circle cx="1343" cy="730" r="11" fill="#f9d812"/>
<circle cx="399" cy="948" r="11" fill="#f9d812"/>
<circle cx="1189" cy="948" r="11" fill="#f9d812"/>
</svg>
</body></html>
